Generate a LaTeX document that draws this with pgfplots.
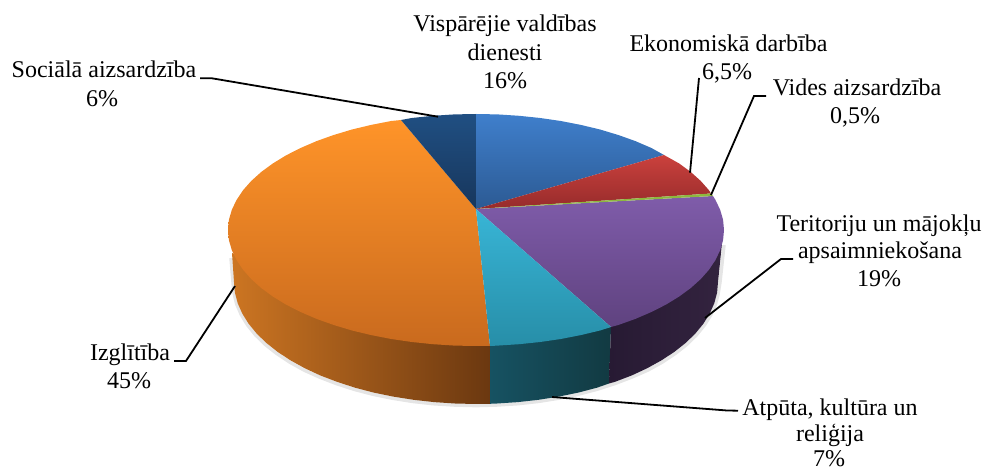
\documentclass[border=0pt]{standalone}
\usepackage{pgfplots}
\usepackage{fontspec}
\setmainfont{Liberation Serif}
\pgfplotsset{compat=1.18}
\definecolor{blueA}{HTML}{3F7FCC}\definecolor{blueB}{HTML}{2C5A93}
\definecolor{redA}{HTML}{CB413D}\definecolor{redB}{HTML}{962B2B}
\definecolor{greenA}{HTML}{8DB83F}
\definecolor{purpA}{HTML}{7F5CAA}\definecolor{purpB}{HTML}{5F427F}
\definecolor{cyanA}{HTML}{38B5D6}\definecolor{cyanB}{HTML}{278EA8}
\definecolor{oranA}{HTML}{FF9429}\definecolor{oranB}{HTML}{C96A1E}
\definecolor{navyA}{HTML}{204F82}\definecolor{navyB}{HTML}{17365C}
\definecolor{sOrA}{HTML}{CC7522}\definecolor{sOrB}{HTML}{6B3810}
\definecolor{sCyA}{HTML}{165262}\definecolor{sCyB}{HTML}{123A42}
\definecolor{sPuA}{HTML}{271A33}\definecolor{sPuB}{HTML}{33233F}
\newcommand{\lab}[3]{\node[anchor=base,inner sep=0pt,font=\fontsize{24}{28}\selectfont] at (axis cs:#1,#2) {#3};}
\begin{document}
\begin{tikzpicture}
\begin{axis}[at={(0,0)},anchor=south west,scale only axis,width=986pt,height=470pt,
  xmin=0,xmax=986,ymin=0,ymax=470,y dir=reverse,hide axis,clip=false,no markers]
% soft shadow below the rim
\addplot[draw=gray!45,line width=3.5pt,opacity=.45] coordinates {(231,258)(233,282)(234,293)(236.7,304)(241.3,314.6)(247.6,325)(255.7,335)(265.4,344.5)(276.8,353.5)(289.6,362)(303.9,370)(319.4,377)(336.2,383.5)(354,389.3)(372.7,394.2)(392.2,398.2)(412.4,401.4)(433,403.7)(454,405)(476,405.6)(497,405)(518,403.7)(538.6,401.4)(558.8,398.2)(578.3,394.2)(597,389.3)(615,383.5)(632,377)(648,370)(662.4,362)(675.2,353.5)(686.6,344.5)(696.3,335)(704.4,325)(710.7,315)(715.3,304.5)(718.1,294)(720,282)(724,245)};
% side walls
\addplot[draw=none,left color=sOrA,right color=sOrB] coordinates {(232,253)(234,282)(234.9,292.6)(237.7,303.2)(242.3,313.6)(248.6,323.7)(256.7,333.6)(266.4,343)(277.8,352)(290.6,360.4)(304.9,368.3)(320.4,375.5)(337.2,381.9)(355,387.7)(373.7,392.6)(393.2,396.6)(413.4,399.8)(434,402.1)(454.9,403.5)(476,404)(490,403.8)(490,346)} --cycle;
\addplot[draw=none,left color=sCyA,right color=sCyB] coordinates {(490,346)(490,403.8)(497.1,403.5)(518,402.1)(538.6,399.8)(558.8,396.6)(578.3,392.6)(597,387.7)(609,383.5)(611,327)} --cycle;
\addplot[draw=none,left color=sPuA,right color=sPuB] coordinates {(611,327)(609,383.5)(614.8,381.9)(631.6,375.5)(647.1,368.3)(661.4,360.4)(674.2,352)(685.6,343)(695.3,333.6)(703.4,323.7)(709.7,313.6)(714.3,303.2)(717.1,292.6)(718,282)(722,243)} --cycle;
% top faces
\addplot[draw=none,top color=oranA,bottom color=oranB] coordinates {(476,209)(490,346)(476,346)(454.4,345.6)(432.9,344.2)(411.8,342)(391.2,339)(371.2,335.1)(352,330.5)(333.7,325)(316.6,318.9)(300.6,312)(286,304.6)(272.8,296.5)(261.2,288)(251.2,279)(243,269.7)(236.5,260)(231.8,250.1)(228.9,240.1)(228,230)(228.9,219.9)(231.8,209.9)(236.5,200)(243,190.3)(251.2,181)(261.2,172)(272.8,163.5)(286,155.4)(300.6,148)(316.6,141.1)(333.7,135)(352,129.5)(371.2,124.9)(391.2,121)(401,120)} --cycle;
\addplot[draw=none,top color=navyA,bottom color=navyB] coordinates {(476,209)(401,120)(411.8,118)(432.9,115.8)(454.4,114.4)(476,114)} --cycle;
\addplot[draw=none,top color=blueA,bottom color=blueB] coordinates {(476,209)(476,114)(497.6,114.4)(519.1,115.8)(540.2,118)(560.8,121)(580.8,124.9)(600,129.5)(618.3,135)(635.4,141.1)(651.4,148)(664,155)} --cycle;
\addplot[draw=none,top color=redA,bottom color=redB] coordinates {(476,209)(664,155)(679.2,163.5)(690.8,172)(700.8,181)(709,190.3)(711,193.5)} --cycle;
\addplot[draw=none,top color=purpA,bottom color=purpB] coordinates {(476,209)(713,196)(715.5,200)(720.2,209.9)(723.1,219.9)(724,230)(723.1,240.1)(720.2,250.1)(715.5,260)(709,269.7)(700.8,279)(690.8,288)(679.2,296.5)(666,304.6)(651.4,312)(635.4,318.9)(618.3,325)(611,327)} --cycle;
\addplot[draw=none,top color=cyanA,bottom color=cyanB] coordinates {(476,209)(611,327)(600,330.5)(580.8,335.1)(560.8,339)(540.2,342)(519.1,344.2)(497.6,345.6)(490,346)} --cycle;
\addplot[draw=none,fill=greenA] coordinates {(476,209)(711,193.5)(713,196)} --cycle;
% leader lines
\addplot[black,line width=1.8pt] coordinates {(200,78.3)(212,78.3)(438,116.7)};
\addplot[black,line width=1.8pt] coordinates {(699,78)(690,172.7)};
\addplot[black,line width=1.8pt] coordinates {(766,96)(754,96)(711,195)};
\addplot[black,line width=1.8pt] coordinates {(793,259)(781,259)(705,318)};
\addplot[black,line width=1.8pt] coordinates {(738,410.7)(727,410.5)(552,397)};
\addplot[black,line width=1.8pt] coordinates {(174,361)(186,361)(235,286)};
% labels
\lab{505}{32}{Vispārējie valdības}
\lab{505}{60.5}{dienesti}
\lab{505}{89}{16\%}
\lab{728.5}{51.7}{Ekonomiskā darbība}
\lab{727}{79.3}{6,5\%}
\lab{857}{96}{Vides aizsardzība}
\lab{855}{124}{0,5\%}
\lab{879}{231.7}{Teritoriju un mājokļu}
\lab{880}{259}{apsaimniekošana}
\lab{879}{287}{19\%}
\lab{830}{416}{Atpūta, kultūra un}
\lab{830}{442}{reliģija}
\lab{829}{466.5}{7\%}
\lab{130}{361}{Izglītība}
\lab{129}{389}{45\%}
\lab{104}{78}{Sociālā aizsardzība}
\lab{102}{106.7}{6\%}
\end{axis}
\path[use as bounding box] (0,0) rectangle (986pt,470pt);
\end{tikzpicture}
\end{document}
